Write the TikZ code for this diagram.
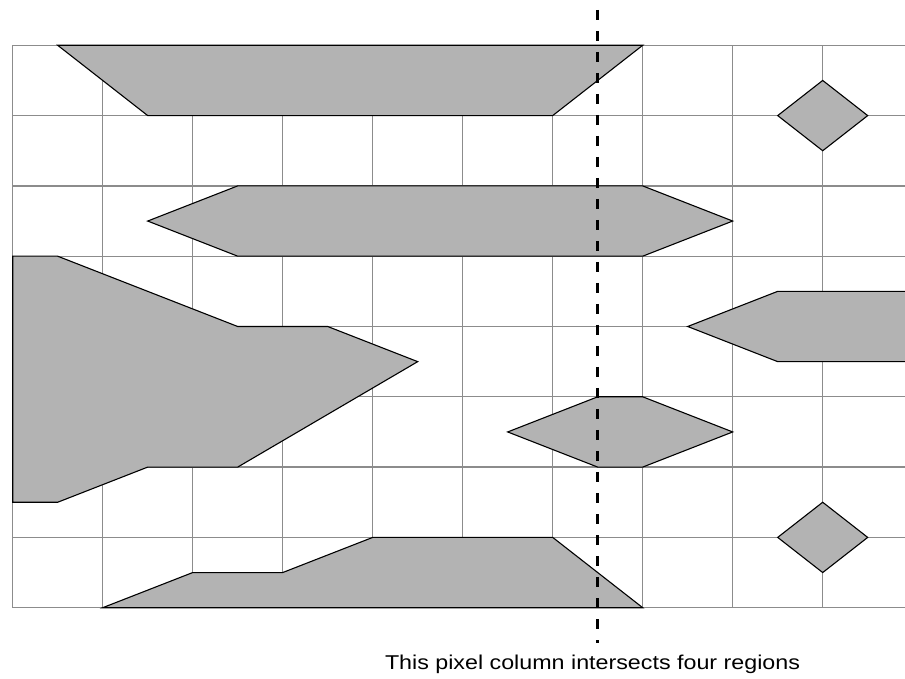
\documentclass[tikz,border=0pt]{standalone}
\usepackage{fontspec}
\setmainfont{Liberation Sans}
\definecolor{gridgray}{HTML}{8C8C8C}
\definecolor{shapegray}{HTML}{B3B3B3}
\tikzset{
  gridline/.style={draw=gridgray, line width=1.3pt},
  region/.style={fill=shapegray, draw=black, line width=1.1pt, line join=miter},
  scanline/.style={draw=black, line width=2.8pt, dash pattern=on 10pt off 11pt},
  caption/.style={font=\fontsize{20}{24}\selectfont, inner sep=0pt, anchor=base}
}
\begin{document}
\begin{tikzpicture}[x=1pt,y=1pt]
\useasboundingbox (0,0) rectangle (905,678);
\clip (0,0) rectangle (905,678);
\begin{scope}[shift={(12.7,632.7)}, x=90pt, y=-70.3pt]
  % grid
  \foreach \i in {0,...,9} \draw[gridline] (\i,0) -- (\i,8);
  \foreach \j in {0,...,8} \draw[gridline] (0,\j) -- (10,\j);
  % regions
  \draw[region] (0.5,0) -- (7,0) -- (6,1) -- (1.5,1) -- cycle;
  \draw[region] (8.5,1) -- (9,0.5) -- (9.5,1) -- (9,1.5) -- cycle;
  \draw[region] (1.5,2.5) -- (2.5,2) -- (7,2) -- (8,2.5) -- (7,3) -- (2.5,3) -- cycle;
  \draw[region] (0,3) -- (0.5,3) -- (2.5,4) -- (3.5,4) -- (4.5,4.5) -- (2.5,6) -- (1.5,6) -- (0.5,6.5) -- (0,6.5) -- cycle;
  \draw[region] (7.5,4) -- (8.5,3.5) -- (10.2,3.5) -- (10.2,4.5) -- (8.5,4.5) -- cycle;
  \draw[region] (5.5,5.5) -- (6.5,5) -- (7,5) -- (8,5.5) -- (7,6) -- (6.5,6) -- cycle;
  \draw[region] (8.5,7) -- (9,6.5) -- (9.5,7) -- (9,7.5) -- cycle;
  \draw[region] (1,8) -- (2,7.5) -- (3,7.5) -- (4,7) -- (6,7) -- (7,8) -- cycle;
\end{scope}
% scan column
\coordinate (scantop) at (597.7,668);
\coordinate (scanbot) at (597.7,35);
\draw[scanline] (scantop) -- (scanbot);
\node[caption] (label) at (592.5,9) {\scalebox{1.163}[1]{This pixel column intersects four regions}};
\end{tikzpicture}
\end{document}
